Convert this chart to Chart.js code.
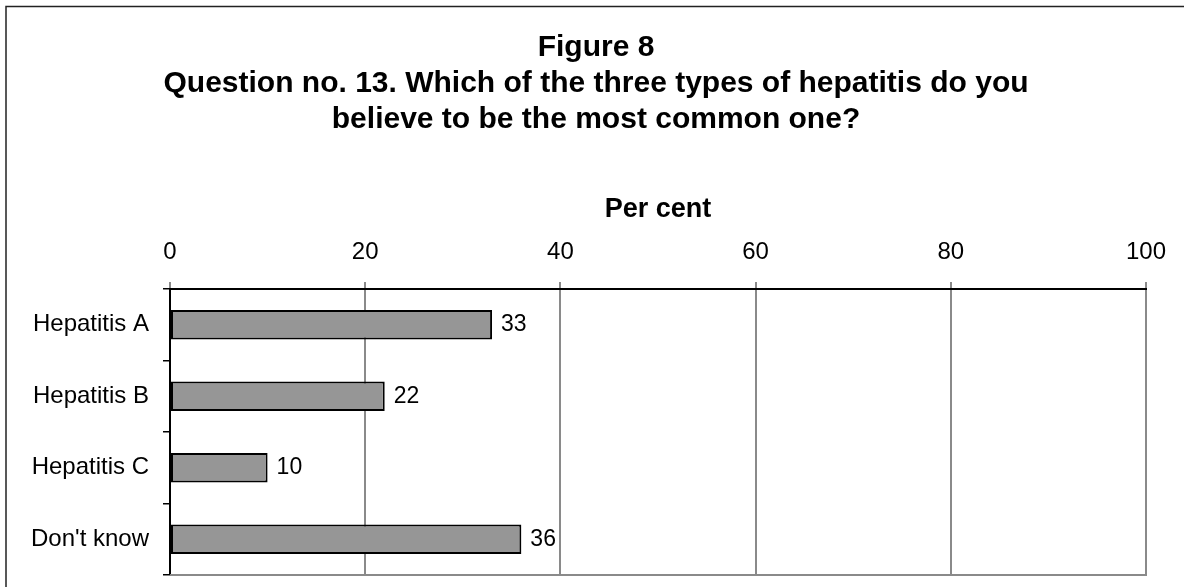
<!DOCTYPE html>
<html>
<head>
<meta charset="utf-8">
<title>Figure 8</title>
<script src="https://cdn.jsdelivr.net/npm/chart.js@4/dist/chart.umd.min.js"></script>
<style>
  html, body { margin: 0; padding: 0; background: #ffffff; overflow: hidden; }
  #wrap { position: relative; width: 1184px; height: 587px; }
</style>
</head>
<body>
<div id="wrap"><canvas id="chart"></canvas></div>
<script>
// Survey answers, per cent of respondents
const categories = ["Hepatitis A", "Hepatitis B", "Hepatitis C", "Don't know"];
const percentValues = [33, 22, 10, 36];
const titleLines = [
  "Figure 8",
  "Question no. 13. Which of the three types of hepatitis do you",
  "believe to be the most common one?"
];
const axisTitle = "Per cent";
const axisMin = 0;
const axisMax = 100;
const axisStep = 20;

const FONT = "'Liberation Sans', Arial, Helvetica, sans-serif";

// White page, frame lines on the left and top edges, and the bottom edge of the plot
const framePlugin = {
  id: "frame",
  beforeDraw(chart) {
    const ctx = chart.ctx;
    ctx.save();
    ctx.fillStyle = "#ffffff";
    ctx.fillRect(0, 0, chart.width, chart.height);
    ctx.strokeStyle = "#222222";
    ctx.lineWidth = 1.5;
    ctx.beginPath();
    ctx.moveTo(6, chart.height);
    ctx.lineTo(6, 6.5);
    ctx.lineTo(chart.width, 6.5);
    ctx.stroke();
    ctx.restore();
  },
  afterDraw(chart) {
    const a = chart.chartArea;
    const ctx = chart.ctx;
    ctx.save();
    ctx.strokeStyle = "#8a8a8a";
    ctx.lineWidth = 2;
    ctx.beginPath();
    ctx.moveTo(a.left, a.bottom);
    ctx.lineTo(a.right + 1, a.bottom);
    ctx.stroke();
    ctx.restore();
  }
};

// Value labels at the end of each bar
const valueLabelPlugin = {
  id: "valueLabels",
  afterDatasetsDraw(chart) {
    const ctx = chart.ctx;
    const meta = chart.getDatasetMeta(0);
    const data = chart.data.datasets[0].data;
    ctx.save();
    ctx.font = "23px " + FONT;
    ctx.fillStyle = "#000000";
    ctx.textAlign = "left";
    ctx.textBaseline = "middle";
    meta.data.forEach((bar, i) => {
      ctx.fillText(String(data[i]), bar.x + 9, bar.y);
    });
    ctx.restore();
  }
};

new Chart(document.getElementById("chart"), {
  type: "bar",
  data: {
    labels: categories,
    datasets: [{
      data: percentValues,
      backgroundColor: "#969696",
      borderColor: "#000000",
      borderWidth: 2,
      borderSkipped: false,
      categoryPercentage: 1,
      barPercentage: 0.41
    }]
  },
  options: {
    indexAxis: "y",
    responsive: true,
    maintainAspectRatio: false,
    animation: false,
    devicePixelRatio: 1,
    layout: { padding: { left: 8, right: 0, top: 0, bottom: 0 } },
    plugins: {
      legend: { display: false },
      tooltip: { enabled: false },
      title: {
        display: true,
        text: titleLines,
        color: "#000000",
        font: { family: FONT, size: 30, weight: "bold", lineHeight: 1.2 },
        padding: { top: 30, bottom: 0 }
      }
    },
    scales: {
      x: {
        position: "top",
        min: axisMin,
        max: axisMax,
        ticks: {
          stepSize: axisStep,
          color: "#000000",
          padding: 15,
          font: { family: FONT, size: 24, lineHeight: 1.2 }
        },
        grid: {
          color: "#8a8a8a",
          lineWidth: 2,
          drawTicks: true,
          tickLength: 7,
          tickColor: "#8a8a8a"
        },
        border: { display: true, color: "#000000", width: 2 },
        title: {
          display: true,
          text: axisTitle,
          color: "#000000",
          font: { family: FONT, size: 27, weight: "bold", lineHeight: 1.2 },
          padding: { top: 55, bottom: 0 }
        },
        afterFit(scale) {
          scale.height = 289 - 138;
          scale.paddingLeft = 0;
          scale.paddingRight = 38;
        }
      },
      y: {
        offset: true,
        ticks: {
          color: "#000000",
          padding: 14,
          font: { family: FONT, size: 24 }
        },
        grid: {
          offset: true,
          drawOnChartArea: false,
          drawTicks: true,
          tickLength: 7,
          tickColor: "#000000",
          lineWidth: 1.5
        },
        border: { display: true, color: "#000000", width: 2 },
        afterFit(scale) {
          scale.width = 162;
          scale.paddingTop = 0;
          scale.paddingBottom = 12;
        }
      }
    }
  },
  plugins: [framePlugin, valueLabelPlugin]
});
</script>
</body>
</html>
